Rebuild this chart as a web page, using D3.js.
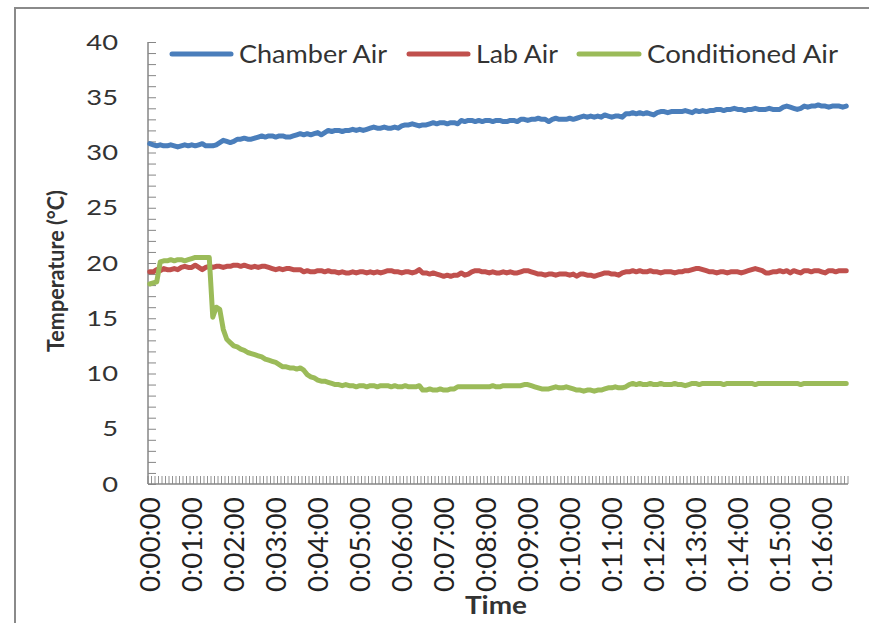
<!DOCTYPE html>
<html>
<head>
<meta charset="utf-8">
<script src="https://cdn.jsdelivr.net/npm/d3@7/dist/d3.min.js"></script>
<style>
  html, body { margin: 0; padding: 0; background: #fff; }
  svg { display: block; }
  text { font-family: Lato, "Open Sans", sans-serif; }
</style>
</head>
<body>
<svg id="chart" width="869" height="623"></svg>
<script>
// Readings every 5 seconds from 0:00:00 to 0:16:35
const seriesNames = ["Chamber Air", "Lab Air", "Conditioned Air"];
const seriesColors = ["#4A7EBB", "#C0504D", "#9BBB59"];

const chamberAir = [
  30.8, 30.7, 30.6, 30.7, 30.6, 30.6, 30.7, 30.6, 30.5, 30.6,
  30.7, 30.6, 30.7, 30.6, 30.7, 30.8, 30.6, 30.6, 30.6, 30.7,
  30.9, 31.1, 31.0, 30.9, 31.0, 31.2, 31.2, 31.3, 31.2, 31.2,
  31.3, 31.4, 31.5, 31.4, 31.5, 31.5, 31.4, 31.5, 31.5, 31.4,
  31.4, 31.5, 31.6, 31.7, 31.6, 31.7, 31.6, 31.7, 31.8, 31.6,
  31.8, 32.0, 31.9, 32.0, 32.0, 31.9, 32.0, 32.0, 32.1, 32.0,
  32.1, 32.0, 32.1, 32.2, 32.3, 32.2, 32.2, 32.3, 32.2, 32.2,
  32.3, 32.2, 32.4, 32.5, 32.5, 32.6, 32.5, 32.4, 32.5, 32.5,
  32.6, 32.7, 32.6, 32.7, 32.7, 32.6, 32.7, 32.7, 32.6, 32.9,
  32.8, 32.9, 32.9, 32.8, 32.9, 32.8, 32.9, 32.9, 32.8, 32.9,
  32.9, 32.8, 32.8, 32.9, 32.9, 32.8, 33.0, 33.0, 32.9, 33.0,
  33.0, 33.1, 33.0, 33.0, 32.8, 33.0, 33.1, 33.0, 33.0, 33.0,
  33.1, 33.0, 33.1, 33.2, 33.3, 33.2, 33.3, 33.2, 33.3, 33.2,
  33.4, 33.3, 33.2, 33.3, 33.3, 33.2, 33.5, 33.5, 33.6, 33.5,
  33.6, 33.5, 33.6, 33.5, 33.4, 33.6, 33.7, 33.7, 33.6, 33.7,
  33.7, 33.7, 33.7, 33.8, 33.7, 33.6, 33.8, 33.7, 33.8, 33.7,
  33.8, 33.8, 33.9, 33.9, 33.8, 33.9, 33.9, 34.0, 33.9, 33.9,
  33.8, 33.9, 33.9, 34.0, 33.9, 33.9, 33.9, 34.0, 33.9, 33.9,
  33.9, 34.1, 34.2, 34.1, 34.0, 33.9, 34.0, 34.2, 34.1, 34.2,
  34.2, 34.3, 34.2, 34.2, 34.1, 34.2, 34.2, 34.2, 34.1, 34.2
];

const labAir = [
  19.2, 19.2, 19.4, 19.3, 19.5, 19.4, 19.4, 19.5, 19.4, 19.6,
  19.7, 19.6, 19.6, 19.8, 19.6, 19.4, 19.6, 19.7, 19.6, 19.7,
  19.7, 19.6, 19.7, 19.7, 19.8, 19.8, 19.7, 19.8, 19.7, 19.6,
  19.7, 19.6, 19.7, 19.7, 19.6, 19.5, 19.4, 19.5, 19.4, 19.5,
  19.5, 19.4, 19.4, 19.4, 19.2, 19.3, 19.2, 19.2, 19.3, 19.3,
  19.2, 19.3, 19.2, 19.2, 19.1, 19.2, 19.1, 19.1, 19.2, 19.1,
  19.2, 19.2, 19.1, 19.2, 19.1, 19.2, 19.1, 19.2, 19.3, 19.3,
  19.2, 19.2, 19.1, 19.2, 19.2, 19.1, 19.2, 19.4, 19.1, 19.1,
  19.0, 19.1, 19.0, 18.9, 18.8, 18.9, 18.8, 18.9, 18.9, 19.1,
  18.9, 19.0, 19.2, 19.3, 19.3, 19.2, 19.2, 19.1, 19.2, 19.1,
  19.1, 19.2, 19.1, 19.2, 19.1, 19.1, 19.2, 19.3, 19.3, 19.2,
  19.1, 19.0, 19.0, 18.9, 19.0, 19.0, 18.9, 19.0, 19.0, 19.0,
  18.9, 19.0, 18.8, 19.0, 19.0, 18.9, 18.9, 18.8, 18.9, 19.0,
  19.1, 19.1, 19.0, 19.0, 18.9, 19.1, 19.2, 19.2, 19.3, 19.2,
  19.3, 19.2, 19.2, 19.3, 19.2, 19.2, 19.1, 19.2, 19.2, 19.2,
  19.1, 19.2, 19.2, 19.3, 19.3, 19.4, 19.5, 19.5, 19.4, 19.3,
  19.2, 19.2, 19.1, 19.2, 19.2, 19.1, 19.2, 19.2, 19.2, 19.1,
  19.2, 19.3, 19.4, 19.5, 19.4, 19.3, 19.1, 19.1, 19.2, 19.2,
  19.3, 19.2, 19.3, 19.1, 19.3, 19.2, 19.1, 19.3, 19.3, 19.2,
  19.3, 19.3, 19.2, 19.1, 19.3, 19.3, 19.2, 19.3, 19.3, 19.3
];

const conditionedAir = [
  18.1, 18.2, 18.3, 20.1, 20.2, 20.2, 20.3, 20.2, 20.3, 20.3,
  20.2, 20.3, 20.4, 20.5, 20.5, 20.5, 20.5, 20.5, 15.1, 16.0,
  15.8, 14.0, 13.1, 12.8, 12.5, 12.4, 12.2, 12.1, 11.9, 11.8,
  11.7, 11.6, 11.5, 11.3, 11.2, 11.1, 11.0, 10.8, 10.6, 10.6,
  10.5, 10.5, 10.4, 10.5, 10.3, 9.9, 9.7, 9.6, 9.4, 9.3,
  9.3, 9.2, 9.1, 9.0, 9.0, 8.9, 9.0, 8.9, 8.9, 8.8,
  8.9, 8.9, 8.8, 8.9, 8.9, 8.8, 8.9, 8.9, 8.9, 8.8,
  8.9, 8.8, 8.8, 8.9, 8.8, 8.8, 8.8, 8.9, 8.5, 8.5,
  8.6, 8.5, 8.5, 8.6, 8.5, 8.5, 8.6, 8.6, 8.8, 8.8,
  8.8, 8.8, 8.8, 8.8, 8.8, 8.8, 8.8, 8.8, 8.9, 8.8,
  8.8, 8.9, 8.9, 8.9, 8.9, 8.9, 8.9, 9.0, 9.0, 8.9,
  8.8, 8.7, 8.6, 8.6, 8.6, 8.7, 8.8, 8.7, 8.7, 8.8,
  8.7, 8.6, 8.5, 8.5, 8.4, 8.5, 8.5, 8.4, 8.5, 8.5,
  8.6, 8.7, 8.7, 8.8, 8.7, 8.7, 8.8, 9.0, 9.1, 9.0,
  9.1, 9.0, 9.0, 9.1, 9.0, 9.0, 9.1, 9.0, 9.0, 9.0,
  9.1, 9.0, 9.0, 8.9, 9.0, 9.1, 9.1, 9.0, 9.1, 9.1,
  9.1, 9.1, 9.1, 9.1, 9.0, 9.1, 9.1, 9.1, 9.1, 9.1,
  9.1, 9.1, 9.1, 9.0, 9.1, 9.1, 9.1, 9.1, 9.1, 9.1,
  9.1, 9.1, 9.1, 9.1, 9.1, 9.1, 9.0, 9.1, 9.1, 9.1,
  9.1, 9.1, 9.1, 9.1, 9.1, 9.1, 9.1, 9.1, 9.1, 9.1
];

const series = [chamberAir, labAir, conditionedAir];

// Category labels: one per reading, 5 s apart, shown once a minute
const stepSeconds = 5;
const timeLabels = d3.range(chamberAir.length).map(i => {
  const s = i * stepSeconds;
  const h = Math.floor(s / 3600), m = Math.floor((s % 3600) / 60), sec = s % 60;
  return `${h}:${String(m).padStart(2, "0")}:${String(sec).padStart(2, "0")}`;
});
const labelEvery = 12;

const yTicks = [0, 5, 10, 15, 20, 25, 30, 35, 40];
const yTitle = "Temperature (°C)";
const xTitle = "Time";

const svg = d3.select("#chart");
const plot = { left: 148, right: 848, top: 42, bottom: 484 };
const axisColor = "#868686";
const textColor = "#333";

// Outer frame (continues past the right and bottom edges)
svg.append("rect")
  .attr("x", 15).attr("y", 8).attr("width", 900).attr("height", 660)
  .attr("fill", "none").attr("stroke", "#8a8a8a").attr("stroke-width", 2);

const x = d3.scaleBand().domain(timeLabels).range([plot.left, plot.right]).padding(0);
const xc = d => x(d) + x.bandwidth() / 2;
const xEdge = d3.scaleLinear().domain([0, timeLabels.length]).range([plot.left, plot.right]);
const y = d3.scaleLinear().domain([0, 40]).range([plot.bottom, plot.top]);

// Y axis: line plus inside ticks every 1 °C
const yAxis = svg.append("g").attr("transform", `translate(${plot.left},0)`)
  .call(d3.axisRight(y).tickValues(d3.range(0, 41)).tickSize(8).tickFormat(""));
yAxis.select(".domain").attr("stroke", axisColor).attr("stroke-width", 1.5)
  .attr("d", `M0,${plot.top}V${plot.bottom}`);
yAxis.selectAll(".tick line").attr("stroke", axisColor).attr("stroke-width", 1);

svg.append("g").selectAll("text").data(yTicks).join("text")
  .attr("transform", d => `translate(118,${y(d) + 7.5}) scale(1.3,1)`)
  .attr("text-anchor", "end")
  .attr("font-size", 21)
  .attr("fill", textColor)
  .text(d => d);

// X axis: line plus inside ticks at every category boundary
const xTickG = svg.append("g");
xTickG.selectAll("line").data(d3.range(timeLabels.length + 1)).join("line")
  .attr("x1", d => xEdge(d)).attr("x2", d => xEdge(d))
  .attr("y1", plot.bottom).attr("y2", plot.bottom - 8)
  .attr("stroke", axisColor).attr("stroke-width", 0.9);
svg.append("line")
  .attr("x1", plot.left).attr("x2", plot.right)
  .attr("y1", plot.bottom).attr("y2", plot.bottom)
  .attr("stroke", axisColor).attr("stroke-width", 1.5);

svg.append("g").selectAll("text")
  .data(timeLabels.filter((d, i) => i % labelEvery === 0))
  .join("text")
  .attr("transform", d => `translate(${xc(d) + 10.5},497) rotate(-90)`)
  .attr("text-anchor", "end")
  .attr("font-size", 26)
  .attr("textLength", 95)
  .attr("lengthAdjust", "spacingAndGlyphs")
  .attr("fill", "#222")
  .text(d => d);

// Axis titles
svg.append("text")
  .attr("transform", `translate(64,${(plot.top + plot.bottom) / 2 + 8}) rotate(-90)`)
  .attr("text-anchor", "middle")
  .attr("font-size", 22).attr("font-weight", "bold")
  .attr("textLength", 162).attr("lengthAdjust", "spacingAndGlyphs")
  .attr("fill", textColor)
  .text(yTitle);

svg.append("text")
  .attr("x", 496).attr("y", 614)
  .attr("text-anchor", "middle")
  .attr("font-size", 24).attr("font-weight", "bold")
  .attr("textLength", 62).attr("lengthAdjust", "spacingAndGlyphs")
  .attr("fill", textColor)
  .text(xTitle);

// Series lines
const line = d3.line()
  .x((d, i) => xc(timeLabels[i]))
  .y(d => y(d));

svg.append("g").selectAll("path").data(series).join("path")
  .attr("d", d => line(d))
  .attr("fill", "none")
  .attr("stroke", (d, i) => seriesColors[i])
  .attr("stroke-width", 5)
  .attr("stroke-linejoin", "round")
  .attr("stroke-linecap", "round");

// Legend
const legendItems = [
  { x1: 172, x2: 231, tx: 239, tw: 148 },
  { x1: 409, x2: 468, tx: 476, tw: 82 },
  { x1: 579, x2: 639, tx: 647, tw: 191 }
];
const legend = svg.append("g");
legend.selectAll("line").data(legendItems).join("line")
  .attr("x1", d => d.x1).attr("x2", d => d.x2)
  .attr("y1", 54).attr("y2", 54)
  .attr("stroke", (d, i) => seriesColors[i])
  .attr("stroke-width", 5).attr("stroke-linecap", "round");
legend.selectAll("text").data(legendItems).join("text")
  .attr("x", d => d.tx).attr("y", 63)
  .attr("font-size", 25)
  .attr("textLength", d => d.tw).attr("lengthAdjust", "spacingAndGlyphs")
  .attr("fill", textColor)
  .text((d, i) => seriesNames[i]);
</script>
</body>
</html>
